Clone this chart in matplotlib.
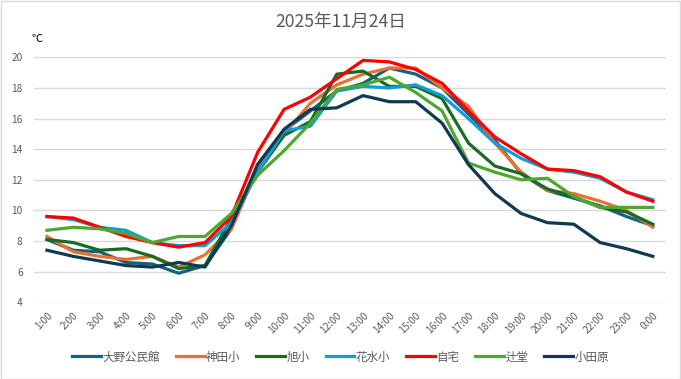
import matplotlib
matplotlib.use("Agg")
import matplotlib.pyplot as plt
from matplotlib.patches import Rectangle

plt.rcParams['font.family'] = ['Noto Sans CJK JP', 'DejaVu Sans']

hours = ["1:00", "2:00", "3:00", "4:00", "5:00", "6:00", "7:00", "8:00", "9:00", "10:00",
         "11:00", "12:00", "13:00", "14:00", "15:00", "16:00", "17:00", "18:00", "19:00",
         "20:00", "21:00", "22:00", "23:00", "0:00"]

oono = [8.1, 7.4, 7.3, 6.6, 6.5, 5.9, 6.4, 8.8, 13.0, 15.2, 16.5, 17.8, 18.3, 19.3, 18.9, 18.0,
        16.3, 14.6, 12.4, 11.3, 10.8, 10.3, 9.6, 9.0]
kanda = [8.3, 7.3, 7.0, 6.8, 7.0, 6.3, 7.1, 8.8, 12.7, 15.0, 17.0, 18.2, 18.9, 19.3, 19.3, 18.0,
         16.8, 14.4, 12.5, 11.3, 11.1, 10.6, 10.0, 8.9]
asahi = [8.1, 7.9, 7.4, 7.5, 7.0, 6.2, 6.4, 9.5, 12.5, 14.9, 15.8, 18.9, 19.1, 18.1, 18.1, 17.3,
         14.4, 12.9, 12.4, 11.4, 10.9, 10.2, 9.9, 9.1]
hanamizu = [9.6, 9.4, 8.9, 8.7, 7.9, 7.7, 7.7, 9.2, 12.5, 15.2, 15.5, 17.8, 18.1, 18.0, 18.2, 17.5,
            16.0, 14.4, 13.4, 12.7, 12.5, 12.1, 11.2, 10.7]
jitaku = [9.6, 9.5, 8.9, 8.3, 7.9, 7.6, 7.9, 9.6, 13.8, 16.6, 17.4, 18.6, 19.8, 19.7, 19.2, 18.3,
          16.5, 14.8, 13.7, 12.7, 12.6, 12.2, 11.2, 10.6]
tsujido = [8.7, 8.9, 8.8, 8.5, 7.9, 8.3, 8.3, 9.8, 12.3, 13.9, 15.7, 17.9, 18.2, 18.7, 17.7, 16.5,
           13.1, 12.5, 12.0, 12.1, 10.9, 10.2, 10.2, 10.2]
odawara = [7.4, 7.0, 6.7, 6.4, 6.3, 6.6, 6.3, 9.0, 13.0, 15.3, 16.6, 16.7, 17.5, 17.1, 17.1, 15.7,
           13.0, 11.1, 9.8, 9.2, 9.1, 7.9, 7.5, 7.0]

series_names = ["大野公民館", "神田小", "旭小", "花水小", "自宅", "辻堂", "小田原"]
series_values = [oono, kanda, asahi, hanamizu, jitaku, tsujido, odawara]
colors = ["#156082", "#E97132", "#196B24", "#0F9ED5", "#FF0000", "#4EA72E", "#0E3A52"]

fig = plt.figure(figsize=(6.81, 3.79), dpi=100)
fig.patches.append(Rectangle((0.5 / 681, 0.5 / 379), 1 - 1.5 / 681, 1 - 1.5 / 379,
                             transform=fig.transFigure, fill=False, edgecolor="#d9d9d9",
                             linewidth=1))
ax = fig.add_axes([33.8 / 681, 1 - 302.3 / 379, (666 - 33.8) / 681, (302.3 - 57.3) / 379])

x = list(range(len(hours)))
for name, vals, c in zip(series_names, series_values, colors):
    ax.plot(x, vals, color=c, lw=2.3, label=name, solid_joinstyle="round")

ax.set_xlim(-0.5, len(hours) - 0.5)
ax.set_ylim(4, 20)
ax.set_yticks(range(4, 21, 2))
ax.set_xticks(x)
ax.set_xticklabels(hours, rotation=45, ha="right", rotation_mode="anchor")
ax.tick_params(axis="both", length=0, labelsize=7.3, labelcolor="#595959")
ax.tick_params(axis="x", pad=6)
ax.tick_params(axis="y", pad=8)
ax.grid(axis="y", color="#d9d9d9", lw=1)
ax.set_axisbelow(True)
for s in ax.spines.values():
    s.set_visible(False)

fig.text(0.5, 1 - 22 / 379, "2025年11月24日", ha="center", va="center", fontsize=12.7,
         color="#595959")
fig.text(31 / 681, 1 - 39 / 379, "℃", ha="left", va="center", fontsize=8, color="#000000")

fig.legend(loc="center", bbox_to_anchor=(0.5, 1 - 357 / 379), ncol=7, frameon=False,
           fontsize=8.3, handlelength=2.5, columnspacing=1.4, handletextpad=0.1,
           labelcolor="#595959")

fig.savefig("out.png", dpi=100)
